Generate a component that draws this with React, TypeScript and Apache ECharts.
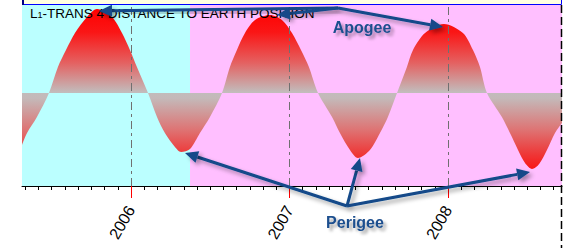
import React, { useEffect, useRef } from "react";
import * as echarts from "echarts";

// x: months since January 2006; y: distance deviation (relative units, 0 = mean)
const months = [
  -8.25, -7.87, -7.12, -6.21, -5.53, -4.92, -4.24, -3.33, -2.57, -1.44, -0.68, -0.08, 0.45, 1.29,
  1.97, 2.57, 3.33, 3.79, 4.47, 5.22, 5.98, 6.89, 7.49, 8.02, 8.63, 9.39, 10.52, 11.43, 12.19,
  12.87, 13.47, 14.16, 15.22, 15.82, 16.58, 17.18, 18.09, 18.85, 19.45, 20.14, 20.89, 21.35,
  22.26, 23.69, 25.13, 25.89, 26.42, 26.95, 28.08, 28.69, 29.3, 29.83, 30.36, 30.9, 31.49, 32.1,
  32.63,
];
const distance = [
  -52, -40, -24, 0, 26, 43, 60, 76, 84, 76, 60, 43, 26, 0,
  -24, -40, -54, -59, -56, -40, -24, 0, 26, 43, 60, 73, 78, 73, 60,
  43, 26, 0, -24, -40, -57, -65, -57, -40, -24, 0, 26, 43,
  60, 69, 60, 43, 26, 0, -24, -40, -57, -70, -76, -71, -57, -40,
  -30,
];
const axisStartMonth = -8.25;
const axisEndMonth = 32.63;
const phaseBoundaryMonth = 4.47;
const monthTicks = [
  -8, -7, -6, -5, -4, -3, -2, -1, 1, 2, 3, 4, 5, 6, 7, 8, 9, 10, 11, 13, 14, 15, 16, 17,
  18, 19, 20, 21, 22, 23, 25, 26, 27, 28, 29, 30, 31, 32,
];
const yearTicks = [0, 12, 24];
const yearLabels = ["2006", "2007", "2008"];
const yMin = -93;
const yMax = 88;

const ARROW = "#124a89";
const LABEL = "#1d4f8e";
const FONT = "'Liberation Sans', Arial, sans-serif";

function arrow(x1: number, y1: number, x2: number, y2: number) {
  const a = Math.atan2(y2 - y1, x2 - x1);
  const L = 13;
  const W = 6;
  const bx = x2 - L * Math.cos(a);
  const by = y2 - L * Math.sin(a);
  const nx = -Math.sin(a);
  const ny = Math.cos(a);
  const shadow = {
    shadowBlur: 4,
    shadowColor: "rgba(0,0,0,0.35)",
    shadowOffsetX: 3,
    shadowOffsetY: 3,
  };
  return [
    {
      type: "line",
      z: 100,
      shape: { x1, y1, x2: bx, y2: by },
      style: { stroke: ARROW, lineWidth: 3, ...shadow },
    },
    {
      type: "polygon",
      z: 100,
      shape: {
        points: [
          [x2, y2],
          [bx + W * nx, by + W * ny],
          [bx - W * nx, by - W * ny],
        ],
      },
      style: { fill: ARROW, ...shadow },
    },
  ];
}

export default function App() {
  const ref = useRef<HTMLDivElement>(null);
  useEffect(() => {
    if (!ref.current) return;
    const chart = echarts.init(ref.current, null, { renderer: "svg" });
    const gradient = new echarts.graphic.LinearGradient(
      0,
      8,
      0,
      170,
      [
        { offset: 0, color: "#ff0000" },
        { offset: 0.15, color: "#fa1616" },
        { offset: 0.34, color: "#e46262" },
        { offset: 0.52, color: "#c2bcbc" },
        { offset: 0.56, color: "#c4b8b8" },
        { offset: 0.75, color: "#de7474" },
        { offset: 0.9, color: "#ee3838" },
        { offset: 1, color: "#fa1414" },
      ],
      true
    );
    const textShadow = {
      textShadowBlur: 3,
      textShadowColor: "rgba(0,0,0,0.35)",
      textShadowOffsetX: 3,
      textShadowOffsetY: 3,
    };
    const apogee = [338, 8];
    const perigee = [347, 206];
    chart.setOption({
      animation: false,
      grid: { left: 22, right: 1, top: 5, bottom: 62 },
      xAxis: [
        {
          type: "value",
          min: axisStartMonth,
          max: axisEndMonth,
          position: "bottom",
          z: 4,
          axisLine: { show: true, onZero: false, lineStyle: { color: "#000", width: 1 } },
          axisTick: { show: true, customValues: monthTicks, length: 4, lineStyle: { color: "#000" } },
          axisLabel: { show: false },
          splitLine: { show: false },
        },
        {
          type: "value",
          min: axisStartMonth,
          max: axisEndMonth,
          position: "bottom",
          z: 5,
          axisLine: { show: false, onZero: false },
          axisTick: { show: true, customValues: yearTicks, length: 12, lineStyle: { color: "#ff0000" } },
          axisLabel: {
            show: true,
            customValues: yearTicks,
            formatter: (v: number) => yearLabels[yearTicks.indexOf(v)] ?? "",
            rotate: 60,
            margin: 21,
            fontSize: 16,
            fontFamily: FONT,
            color: "#000",
          },
          splitLine: { show: false },
        },
      ],
      yAxis: { type: "value", min: yMin, max: yMax, show: false, splitLine: { show: false } },
      series: [
        {
          type: "line",
          z: 1,
          data: [],
          silent: true,
          markArea: {
            silent: true,
            data: [
              [{ xAxis: axisStartMonth, itemStyle: { color: "#bbffff" } }, { xAxis: phaseBoundaryMonth }],
              [{ xAxis: phaseBoundaryMonth, itemStyle: { color: "#ffbfff" } }, { xAxis: axisEndMonth }],
            ],
          },
        },
        {
          type: "line",
          z: 2,
          data: months.map((m, i) => [m, distance[i]]),
          smooth: 0.3,
          showSymbol: false,
          silent: true,
          lineStyle: { width: 0 },
          areaStyle: { color: gradient, opacity: 1 },
        },
        {
          type: "line",
          z: 3,
          data: [],
          silent: true,
          markLine: {
            silent: true,
            symbol: "none",
            label: { show: false },
            lineStyle: { color: "#707070", type: [8, 4, 3, 4], width: 1 },
            data: yearTicks.map((v) => ({ xAxis: v })),
          },
        },
      ],
      graphic: [
        {
          type: "rect",
          z: 90,
          shape: { x: 22.5, y: -6, width: 539, height: 10.5 },
          style: { fill: "#ffffe0", stroke: "#0000ff", lineWidth: 1 },
        },
        {
          type: "rect",
          z: 91,
          shape: { x: 22, y: 0, width: 2, height: 5 },
          style: { fill: "#000080" },
        },
        {
          type: "line",
          z: 90,
          shape: { x1: 561.5, y1: 5, x2: 561.5, y2: 248 },
          style: { stroke: "#000", lineWidth: 1.5, lineDash: [8, 4] },
        },
        {
          type: "text",
          z: 95,
          x: 30,
          y: 6,
          style: {
            text: "{a|L}{b|1}{a|-TRANS 4 DISTANCE TO EARTH POSITION}",
            rich: {
              a: { fontSize: 13.5, fontFamily: FONT, fill: "#000", color: "#000" },
              b: { fontSize: 9, fontFamily: FONT, fill: "#000", color: "#000", padding: [3, 0, 0, 0] },
            },
            fill: "#000",
          },
        },
        ...arrow(apogee[0], apogee[1], 99, 11),
        ...arrow(apogee[0], apogee[1], 277, 15),
        ...arrow(apogee[0], apogee[1], 443, 27),
        ...arrow(perigee[0], perigee[1], 185, 153),
        ...arrow(perigee[0], perigee[1], 360, 158),
        ...arrow(perigee[0], perigee[1], 530, 172),
        {
          type: "text",
          z: 101,
          x: 362,
          y: 27,
          style: {
            text: "Apogee",
            fontSize: 16,
            fontWeight: "bold",
            fontFamily: FONT,
            fill: LABEL,
            align: "center",
            verticalAlign: "middle",
            ...textShadow,
          },
        },
        {
          type: "text",
          z: 101,
          x: 355,
          y: 222,
          style: {
            text: "Perigee",
            fontSize: 16,
            fontWeight: "bold",
            fontFamily: FONT,
            fill: LABEL,
            align: "center",
            verticalAlign: "middle",
            ...textShadow,
          },
        },
      ],
    });
    return () => chart.dispose();
  }, []);
  return (
    <div
      ref={ref}
      style={{ position: "fixed", left: 0, top: 0, width: 563, height: 248, background: "#fff" }}
    />
  );
}
